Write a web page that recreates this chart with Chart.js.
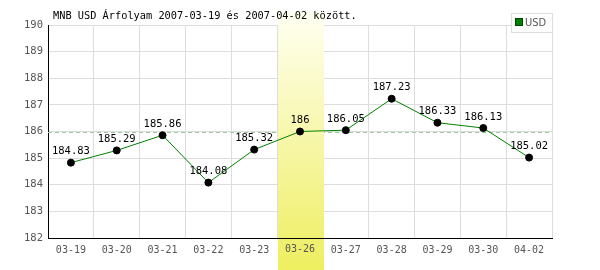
<!DOCTYPE html>
<html>
<head>
<meta charset="utf-8">
<script src="https://cdn.jsdelivr.net/npm/chart.js@4/dist/chart.umd.min.js"></script>
<style>
  html, body { margin: 0; padding: 0; background: #fff; }
  #wrap { width: 600px; height: 270px; }
</style>
</head>
<body>
<div id="wrap"><canvas id="chart" width="600" height="270"></canvas></div>
<script>
// Daten
const dates = ["03-19", "03-20", "03-21", "03-22", "03-23", "03-26", "03-27", "03-28", "03-29", "03-30", "04-02"];
const usdRates = [184.83, 185.29, 185.86, 184.08, 185.32, 186, 186.05, 187.23, 186.33, 186.13, 185.02];
const yTicks = [182, 183, 184, 185, 186, 187, 188, 189, 190];
const highlightDate = "03-26";
const refLine = 186;
const titleText = "MNB USD Árfolyam 2007-03-19 és 2007-04-02 között.";
const seriesName = "USD";

const MONO = "'DejaVu Sans Mono', 'Liberation Mono', monospace";

// Hervorhebung + Referenzlinie
const bandPlugin = {
  id: "band",
  beforeDatasetsDraw(chart) {
    const { ctx, chartArea: a, scales: { x, y } } = chart;
    const idx = dates.indexOf(highlightDate);
    const half = (x.getPixelForValue(1) - x.getPixelForValue(0)) / 2;
    const cx = x.getPixelForValue(idx);
    const top = 12, bottom = chart.height;

    ctx.save();
    // gestrichelte Linie
    const ry = Math.round(y.getPixelForValue(refLine)) + 0.5;
    ctx.strokeStyle = "#99cc99";
    ctx.lineWidth = 1;
    ctx.setLineDash([4, 3]);
    ctx.beginPath();
    ctx.moveTo(a.left, ry);
    ctx.lineTo(a.right, ry);
    ctx.stroke();
    ctx.setLineDash([]);

    const g = ctx.createLinearGradient(0, top, 0, bottom);
    g.addColorStop(0, "#fffff2");
    g.addColorStop(1, "#eeee60");
    ctx.fillStyle = g;
    ctx.fillRect(Math.round(cx - half) + 1, top, Math.round(half * 2), bottom - top);

    // Achse und Beschriftung wieder darüber
    ctx.strokeStyle = "#000";
    ctx.beginPath();
    ctx.moveTo(a.left, Math.round(a.bottom) + 0.5);
    ctx.lineTo(a.right, Math.round(a.bottom) + 0.5);
    ctx.stroke();
    ctx.fillStyle = "#555";
    ctx.font = "10px " + MONO;
    ctx.textAlign = "center";
    ctx.textBaseline = "middle";
    ctx.fillText(highlightDate, cx, a.bottom + 11);
    ctx.restore();
  }
};

// Werte über den Punkten, Titel, Legende
const labelPlugin = {
  id: "labels",
  afterDatasetsDraw(chart) {
    const { ctx } = chart;
    const meta = chart.getDatasetMeta(0);
    ctx.save();
    ctx.fillStyle = "#000";
    ctx.font = "10.5px " + MONO;
    ctx.textAlign = "center";
    ctx.textBaseline = "middle";
    meta.data.forEach((pt, i) => {
      ctx.fillText(String(usdRates[i]), pt.x, pt.y - 11);
    });

    // Titel
    ctx.textAlign = "left";
    ctx.font = "10.3px " + MONO;
    ctx.fillText(titleText, 53, 16);

    // Legende
    ctx.fillStyle = "#fff";
    ctx.fillRect(511, 13, 41, 19);
    ctx.strokeStyle = "#dddddd";
    ctx.strokeRect(511.5, 13.5, 41, 19);
    ctx.fillStyle = "#008000";
    ctx.fillRect(516, 19, 6, 6);
    ctx.strokeStyle = "#004400";
    ctx.strokeRect(515.5, 18.5, 7, 7);
    ctx.fillStyle = "#555";
    ctx.font = "11px 'Liberation Sans Narrow', 'DejaVu Sans Condensed', sans-serif";
    ctx.fillText(seriesName, 525, 23);
    ctx.restore();
  }
};

new Chart(document.getElementById("chart"), {
  type: "line",
  data: {
    labels: dates,
    datasets: [{
      label: seriesName,
      data: usdRates,
      borderColor: "#008000",
      borderWidth: 1,
      pointBackgroundColor: "#000",
      pointBorderColor: "#000",
      pointRadius: 3.5,
      tension: 0
    }]
  },
  options: {
    responsive: false,
    animation: false,
    layout: { padding: { top: 25, right: 48, left: 0, bottom: 0 } },
    plugins: {
      legend: { display: false },
      title: { display: false },
      tooltip: { enabled: false }
    },
    scales: {
      x: {
        offset: true,
        grid: { offset: true, color: "#dddddd", drawTicks: false },
        border: { color: "#000", width: 1 },
        ticks: { color: "#555", font: { family: MONO, size: 10 }, padding: 6, maxRotation: 0, autoSkip: false },
        afterFit: s => { s.height = 32; }
      },
      y: {
        min: yTicks[0],
        max: yTicks[yTicks.length - 1],
        afterBuildTicks: s => { s.ticks = yTicks.map(v => ({ value: v })); },
        grid: { color: "#dddddd", drawTicks: false },
        border: { color: "#000", width: 1 },
        ticks: { color: "#555", font: { family: MONO, size: 10.5 }, padding: 5 },
        afterFit: s => { s.width = 48; }
      }
    }
  },
  plugins: [bandPlugin, labelPlugin]
});
</script>
</body>
</html>
